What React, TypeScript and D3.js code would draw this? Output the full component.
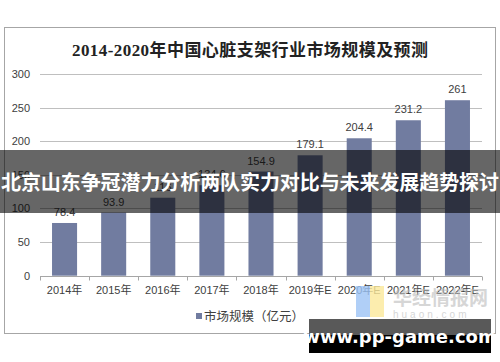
import React, { useRef, useEffect } from 'react';
import * as d3 from 'd3';

const categories = ['2014年', '2015年', '2016年', '2017年', '2018年', '2019年E', '2020年E', '2021年E', '2022年E'];
const marketSize = [78.4, 93.9, 116, 134.6, 154.9, 179.1, 204.4, 231.2, 261];
const yTicks = [0, 50, 100, 150, 200, 250, 300];

const title = '2014-2020年中国心脏支架行业市场规模及预测';
const legendLabel = '市场规模（亿元）';
const banner = '北京山东争冠潜力分析两队实力对比与未来发展趋势探讨';
const siteMark = 'www.pp-game.com';

const App = () => {
  const svgRef = useRef<SVGSVGElement>(null);

  useEffect(() => {
    document.body.style.margin = '0';
    const width = 500;
    const height = 362;
    const svg = d3.select(svgRef.current);
    svg.selectAll('*').remove();
    svg.attr('width', width).attr('height', height).style('display', 'block').style('background', 'white');

    const font = '"Liberation Sans", Arial, "Noto Sans CJK SC", sans-serif';
    const barColor = '#717ca0';

    // chart frame
    svg.append('rect')
      .attr('x', 4.5).attr('y', 27.5).attr('width', 491).attr('height', 306)
      .attr('fill', 'white').attr('stroke', '#a6a6a6');

    svg.append('text')
      .attr('x', 250).attr('y', 56)
      .attr('text-anchor', 'middle')
      .attr('textLength', 356)
      .style('font-family', '"Liberation Serif", "Noto Sans CJK SC", serif')
      .style('font-size', '17px')
      .style('font-weight', 'bold')
      .style('fill', '#222')
      .text(title);

    const x = d3.scaleBand().domain(categories).range([40, 482]).paddingInner(0.49).paddingOuter(0.245);
    const y = d3.scaleLinear().domain([0, 300]).range([275.7, 74]);

    // grid
    svg.selectAll('.grid')
      .data(yTicks.filter(d => d > 0))
      .enter().append('line')
      .attr('x1', 40).attr('x2', 482)
      .attr('y1', d => Math.round(y(d)) + 0.5).attr('y2', d => Math.round(y(d)) + 0.5)
      .attr('stroke', '#bfbfbf');

    svg.selectAll('.ytick')
      .data(yTicks)
      .enter().append('text')
      .attr('x', 30).attr('y', d => y(d) + 4)
      .attr('text-anchor', 'end')
      .style('font-family', font).style('font-size', '11px').style('fill', '#404040')
      .text(d => d);

    // bars
    svg.selectAll('.bar')
      .data(marketSize)
      .enter().append('rect')
      .attr('x', (d, i) => x(categories[i]) as number)
      .attr('width', x.bandwidth())
      .attr('y', d => y(d))
      .attr('height', d => y(0) - y(d))
      .attr('fill', barColor);

    svg.selectAll('.val')
      .data(marketSize)
      .enter().append('text')
      .attr('x', (d, i) => (x(categories[i]) as number) + x.bandwidth() / 2)
      .attr('y', d => y(d) - 7)
      .attr('text-anchor', 'middle')
      .style('font-family', font).style('font-size', '11px').style('fill', '#404040')
      .text(d => d);

    // x axis
    const xAxis = svg.append('g').attr('transform', `translate(0,${Math.round(y(0)) + 0.5})`);
    xAxis.append('line').attr('x1', 40).attr('x2', 482).attr('stroke', '#a6a6a6');
    const step = x.step();
    xAxis.selectAll('.tk')
      .data(d3.range(categories.length + 1))
      .enter().append('line')
      .attr('x1', i => Math.round(40 + i * step) + 0.5).attr('x2', i => Math.round(40 + i * step) + 0.5)
      .attr('y1', 0).attr('y2', 4)
      .attr('stroke', '#a6a6a6');
    svg.selectAll('.xl')
      .data(categories)
      .enter().append('text')
      .attr('x', d => (x(d) as number) + x.bandwidth() / 2)
      .attr('y', 294)
      .attr('text-anchor', 'middle')
      .style('font-family', font).style('font-size', '11px').style('fill', '#404040')
      .text(d => d);

    // legend
    svg.append('rect').attr('x', 196).attr('y', 313).attr('width', 6).attr('height', 6).attr('fill', barColor);
    svg.append('text')
      .attr('x', 204).attr('y', 321)
      .style('font-family', font).style('font-size', '12.5px').style('fill', '#404040')
      .text(legendLabel);

    // huaon watermark
    svg.append('rect').attr('x', 356).attr('y', 286).attr('width', 14).attr('height', 31).attr('fill', '#9cc3f5').attr('opacity', 0.8);
    svg.append('rect').attr('x', 370).attr('y', 286).attr('width', 14).attr('height', 31).attr('fill', '#fbe89a').attr('opacity', 0.8);
    svg.append('text')
      .attr('x', 393).attr('y', 305)
      .style('font-family', '"Noto Sans CJK SC", sans-serif').style('font-size', '19px').style('font-weight', 'bold')
      .style('fill', '#bbb').style('opacity', 0.6)
      .text('华经情报网');
    svg.append('text')
      .attr('x', 393).attr('y', 318)
      .style('font-family', font).style('font-size', '10px').style('letter-spacing', '3px')
      .style('fill', '#bbb').style('opacity', 0.6)
      .text('huaon.com');

    // overlay banner
    svg.append('rect').attr('x', 0).attr('y', 150).attr('width', width).attr('height', 63).attr('fill', 'black').attr('opacity', 0.6);
    svg.append('text')
      .attr('x', 250).attr('y', 190)
      .attr('text-anchor', 'middle')
      .attr('textLength', 498)
      .style('font-family', '"Noto Sans CJK SC", sans-serif').style('font-size', '20px').style('font-weight', 'bold')
      .style('fill', 'white')
      .text(banner);

    // site mark
    svg.append('rect').attr('x', 309).attr('y', 319).attr('width', 182).attr('height', 16).attr('fill', '#595959');
    svg.append('rect').attr('x', 309).attr('y', 335).attr('width', 182).attr('height', 18).attr('fill', 'black');
    svg.append('text')
      .attr('x', 400).attr('y', 343)
      .attr('text-anchor', 'middle')
      .style('font-family', '"DejaVu Sans", sans-serif').style('font-size', '18px').style('font-weight', 'bold')
      .style('fill', 'white')
      .text(siteMark);
  }, []);

  return <svg ref={svgRef}></svg>;
};

export default App;
